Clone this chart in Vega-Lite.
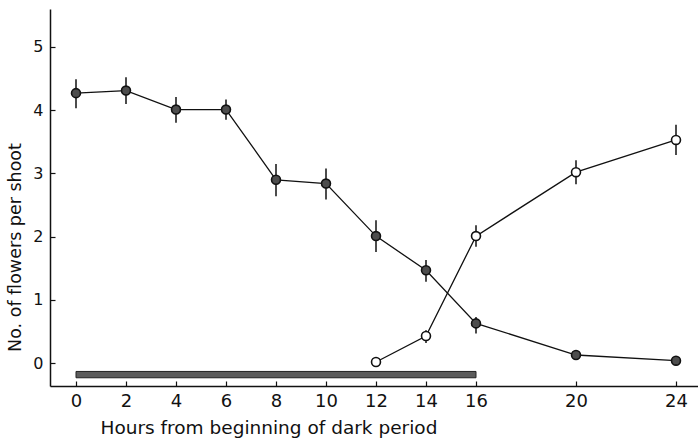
{
  "$schema": "https://vega.github.io/schema/vega-lite/v6.json",
  "width": 648,
  "height": 377,
  "autosize": {"type": "none"},
  "padding": {"left": 50, "top": 9, "right": 0, "bottom": 52},
  "background": "white",
  "config": {"view": {"stroke": null}, "font": "DejaVu Sans"},
  "resolve": {"axis": {"x": "independent", "y": "independent"}},
  "datasets": {
    "pts": [
      {"hour": 0, "series": "filled", "mean": 4.27, "lo": 4.03, "hi": 4.49},
      {"hour": 2, "series": "filled", "mean": 4.31, "lo": 4.10, "hi": 4.52},
      {"hour": 4, "series": "filled", "mean": 4.01, "lo": 3.80, "hi": 4.21},
      {"hour": 6, "series": "filled", "mean": 4.01, "lo": 3.85, "hi": 4.17},
      {"hour": 8, "series": "filled", "mean": 2.90, "lo": 2.64, "hi": 3.15},
      {"hour": 10, "series": "filled", "mean": 2.84, "lo": 2.59, "hi": 3.08},
      {"hour": 12, "series": "filled", "mean": 2.01, "lo": 1.76, "hi": 2.26},
      {"hour": 14, "series": "filled", "mean": 1.47, "lo": 1.29, "hi": 1.63},
      {"hour": 16, "series": "filled", "mean": 0.63, "lo": 0.47, "hi": 0.73},
      {"hour": 20, "series": "filled", "mean": 0.13, "lo": 0.06, "hi": 0.20},
      {"hour": 24, "series": "filled", "mean": 0.04, "lo": 0.04, "hi": 0.04},
      {"hour": 12, "series": "open", "mean": 0.02, "lo": 0.02, "hi": 0.02},
      {"hour": 14, "series": "open", "mean": 0.43, "lo": 0.32, "hi": 0.52},
      {"hour": 16, "series": "open", "mean": 2.01, "lo": 1.84, "hi": 2.18},
      {"hour": 20, "series": "open", "mean": 3.02, "lo": 2.83, "hi": 3.21},
      {"hour": 24, "series": "open", "mean": 3.53, "lo": 3.29, "hi": 3.77}
    ],
    "dark": [{"start": 0, "end": 16}]
  },
  "layer": [
    {
      "data": {"name": "pts"},
      "mark": {"type": "rule", "color": "#111", "strokeWidth": 1.5},
      "encoding": {
        "x": {
          "field": "hour", "type": "quantitative",
          "scale": {"domain": [-1.04, 24.88], "nice": false, "zero": false},
          "axis": {
            "orient": "bottom",
            "values": [0, 2, 4, 6, 8, 10, 12, 14, 16, 20, 24],
            "title": "Hours from beginning of dark period",
            "grid": false, "ticks": false,
            "domainColor": "#111", "domainWidth": 1.5,
            "labelFontSize": 18, "labelColor": "#111", "labelPadding": 6,
            "labelFont": "DejaVu Sans", "labelFontWeight": "normal",
            "titleFont": "DejaVu Sans", "titleFontSize": 18.5, "titleFontWeight": "normal",
            "titleColor": "#111", "titleAlign": "left", "titleAnchor": "start",
            "titleX": 50, "titleY": 47, "titleBaseline": "alphabetic"
          }
        },
        "y": {
          "field": "lo", "type": "quantitative",
          "scale": {"domain": [-0.36, 5.6], "nice": false, "zero": false},
          "axis": {
            "orient": "left",
            "values": [0, 1, 2, 3, 4, 5],
            "format": "d",
            "title": "No. of flowers per shoot",
            "grid": false, "ticks": false,
            "domainColor": "#111", "domainWidth": 1.5,
            "labelFontSize": 16, "labelColor": "#111", "labelPadding": 7,
            "labelFont": "DejaVu Sans",
            "titleFont": "DejaVu Sans", "titleFontSize": 17.5, "titleFontWeight": "normal",
            "titleColor": "#111", "titleAlign": "center", "titleAngle": -90,
            "titleX": -30, "titleY": 238, "titleBaseline": "alphabetic"
          }
        },
        "y2": {"field": "hi"}
      }
    },
    {
      "data": {"name": "dark"},
      "mark": {"type": "rect", "fill": "#5c5c5c", "stroke": "#222", "strokeWidth": 1},
      "encoding": {
        "x": {"field": "start", "type": "quantitative", "axis": null},
        "x2": {"field": "end"},
        "y": {"datum": -0.23, "axis": null},
        "y2": {"datum": -0.13}
      }
    },
    {
      "data": {"name": "pts"},
      "mark": {"type": "line", "color": "#111", "strokeWidth": 1.3},
      "encoding": {
        "x": {
          "field": "hour", "type": "quantitative",
          "axis": {
            "orient": "bottom", "offset": -5,
            "values": [0, 2, 4, 6, 8, 10, 12, 14, 16, 20, 24],
            "domain": false, "labels": false, "grid": false, "title": null,
            "ticks": true, "tickSize": 5, "tickColor": "#111", "tickWidth": 1.2
          }
        },
        "y": {
          "field": "mean", "type": "quantitative",
          "axis": {
            "orient": "left", "offset": -5,
            "values": [0, 1, 2, 3, 4, 5],
            "domain": false, "labels": false, "grid": false, "title": null,
            "ticks": true, "tickSize": 5, "tickColor": "#111", "tickWidth": 1.2
          }
        },
        "detail": {"field": "series"}
      }
    },
    {
      "data": {"name": "pts"},
      "mark": {"type": "point", "shape": "circle", "filled": true, "stroke": "#111", "strokeWidth": 1.6, "size": 80, "opacity": 1},
      "encoding": {
        "x": {"field": "hour", "type": "quantitative", "axis": null},
        "y": {"field": "mean", "type": "quantitative", "axis": null},
        "fill": {
          "field": "series", "type": "nominal",
          "scale": {"domain": ["filled", "open"], "range": ["#4d4d4d", "#ffffff"]},
          "legend": null
        }
      }
    },
    {
      "mark": {"type": "rule", "color": "#111", "strokeWidth": 1.5},
      "encoding": {"y": {"datum": 5.6, "axis": null}}
    }
  ]
}
